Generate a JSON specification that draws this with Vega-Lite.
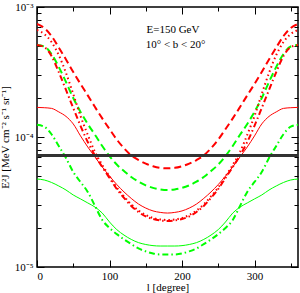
{
  "$schema": "https://vega.github.io/schema/vega-lite/v6.json",
  "width": 261,
  "height": 260,
  "autosize": {"type": "none"},
  "padding": {"left": 37, "top": 7, "right": 2, "bottom": 26},
  "background": "white",
  "config": {
    "view": {"stroke": "#000", "strokeWidth": 1.5},
    "axis": {"domain": false, "grid": false, "labelFont": "Liberation Serif", "labelFontSize": 11, "labelColor": "#000", "tickColor": "#000", "tickWidth": 1, "titleFont": "Liberation Serif", "titleFontSize": 11, "titleFontWeight": "normal", "titleColor": "#000"}
  },
  "data": {"values": [
    {"l": 0, "rd": 7.40e-4, "gd": 5.10e-4, "rdot": 6.65e-4, "rdd": 5.10e-4, "rs": 1.69e-4, "gdd": 1.24e-4, "gs": 4.75e-5},
    {"l": 10, "rd": 6.89e-4, "gd": 4.97e-4, "rdot": 6.20e-4, "rdd": 4.92e-4, "rs": 1.68e-4, "gdd": 1.20e-4, "gs": 4.67e-5},
    {"l": 20, "rd": 5.98e-4, "gd": 4.35e-4, "rdot": 5.38e-4, "rdd": 4.20e-4, "rs": 1.66e-4, "gdd": 1.05e-4, "gs": 4.47e-5},
    {"l": 30, "rd": 4.88e-4, "gd": 3.46e-4, "rdot": 4.27e-4, "rdd": 3.16e-4, "rs": 1.56e-4, "gdd": 8.53e-5, "gs": 4.20e-5},
    {"l": 40, "rd": 3.95e-4, "gd": 2.65e-4, "rdot": 3.11e-4, "rdd": 2.30e-4, "rs": 1.44e-4, "gdd": 6.89e-5, "gs": 3.91e-5},
    {"l": 50, "rd": 3.16e-4, "gd": 1.995e-4, "rdot": 2.14e-4, "rdd": 1.67e-4, "rs": 1.26e-4, "gdd": 5.38e-5, "gs": 3.58e-5},
    {"l": 60, "rd": 2.56e-4, "gd": 1.56e-4, "rdot": 1.45e-4, "rdd": 1.22e-4, "rs": 1.02e-4, "gdd": 4.51e-5, "gs": 3.34e-5},
    {"l": 70, "rd": 2.09e-4, "gd": 1.26e-4, "rdot": 1.04e-4, "rdd": 9.15e-5, "rs": 8.38e-5, "gdd": 3.78e-5, "gs": 3.11e-5},
    {"l": 80, "rd": 1.70e-4, "gd": 1.04e-4, "rdot": 7.67e-5, "rdd": 7.21e-5, "rs": 7.02e-5, "gdd": 2.95e-5, "gs": 2.89e-5},
    {"l": 90, "rd": 1.39e-4, "gd": 8.53e-5, "rdot": 6.09e-5, "rdd": 5.88e-5, "rs": 5.88e-5, "gdd": 2.30e-5, "gs": 2.60e-5},
    {"l": 100, "rd": 1.15e-4, "gd": 7.14e-5, "rdot": 4.97e-5, "rdd": 4.84e-5, "rs": 5.01e-5, "gdd": 1.995e-5, "gs": 2.22e-5},
    {"l": 110, "rd": 9.57e-5, "gd": 6.14e-5, "rdot": 4.09e-5, "rdd": 3.98e-5, "rs": 4.31e-5, "gdd": 1.79e-5, "gs": 1.94e-5},
    {"l": 120, "rd": 8.19e-5, "gd": 5.47e-5, "rdot": 3.49e-5, "rdd": 3.40e-5, "rs": 3.78e-5, "gdd": 1.63e-5, "gs": 1.76e-5},
    {"l": 130, "rd": 7.22e-5, "gd": 4.92e-5, "rdot": 3.03e-5, "rdd": 2.95e-5, "rs": 3.37e-5, "gdd": 1.50e-5, "gs": 1.63e-5},
    {"l": 140, "rd": 6.65e-5, "gd": 4.53e-5, "rdot": 2.72e-5, "rdd": 2.65e-5, "rs": 3.05e-5, "gdd": 1.39e-5, "gs": 1.54e-5},
    {"l": 150, "rd": 6.24e-5, "gd": 4.25e-5, "rdot": 2.51e-5, "rdd": 2.45e-5, "rs": 2.84e-5, "gdd": 1.32e-5, "gs": 1.49e-5},
    {"l": 160, "rd": 5.96e-5, "gd": 4.06e-5, "rdot": 2.38e-5, "rdd": 2.34e-5, "rs": 2.70e-5, "gdd": 1.27e-5, "gs": 1.46e-5},
    {"l": 170, "rd": 5.79e-5, "gd": 3.95e-5, "rdot": 2.32e-5, "rdd": 2.28e-5, "rs": 2.63e-5, "gdd": 1.25e-5, "gs": 1.45e-5},
    {"l": 180, "rd": 5.74e-5, "gd": 3.91e-5, "rdot": 2.30e-5, "rdd": 2.26e-5, "rs": 2.60e-5, "gdd": 1.25e-5, "gs": 1.45e-5},
    {"l": 190, "rd": 5.79e-5, "gd": 3.95e-5, "rdot": 2.32e-5, "rdd": 2.28e-5, "rs": 2.63e-5, "gdd": 1.25e-5, "gs": 1.45e-5},
    {"l": 200, "rd": 5.96e-5, "gd": 4.06e-5, "rdot": 2.38e-5, "rdd": 2.34e-5, "rs": 2.70e-5, "gdd": 1.27e-5, "gs": 1.46e-5},
    {"l": 210, "rd": 6.24e-5, "gd": 4.25e-5, "rdot": 2.51e-5, "rdd": 2.45e-5, "rs": 2.84e-5, "gdd": 1.32e-5, "gs": 1.49e-5},
    {"l": 220, "rd": 6.65e-5, "gd": 4.53e-5, "rdot": 2.72e-5, "rdd": 2.65e-5, "rs": 3.05e-5, "gdd": 1.39e-5, "gs": 1.54e-5},
    {"l": 230, "rd": 7.22e-5, "gd": 4.92e-5, "rdot": 3.03e-5, "rdd": 2.95e-5, "rs": 3.37e-5, "gdd": 1.50e-5, "gs": 1.63e-5},
    {"l": 240, "rd": 8.19e-5, "gd": 5.47e-5, "rdot": 3.49e-5, "rdd": 3.40e-5, "rs": 3.78e-5, "gdd": 1.63e-5, "gs": 1.76e-5},
    {"l": 250, "rd": 9.57e-5, "gd": 6.14e-5, "rdot": 4.09e-5, "rdd": 3.98e-5, "rs": 4.31e-5, "gdd": 1.79e-5, "gs": 1.94e-5},
    {"l": 260, "rd": 1.15e-4, "gd": 7.14e-5, "rdot": 4.97e-5, "rdd": 4.84e-5, "rs": 5.01e-5, "gdd": 1.995e-5, "gs": 2.22e-5},
    {"l": 270, "rd": 1.39e-4, "gd": 8.53e-5, "rdot": 6.09e-5, "rdd": 5.88e-5, "rs": 5.88e-5, "gdd": 2.30e-5, "gs": 2.60e-5},
    {"l": 280, "rd": 1.70e-4, "gd": 1.04e-4, "rdot": 7.67e-5, "rdd": 7.21e-5, "rs": 7.02e-5, "gdd": 2.95e-5, "gs": 2.89e-5},
    {"l": 290, "rd": 2.09e-4, "gd": 1.26e-4, "rdot": 1.04e-4, "rdd": 9.15e-5, "rs": 8.38e-5, "gdd": 3.78e-5, "gs": 3.11e-5},
    {"l": 300, "rd": 2.56e-4, "gd": 1.56e-4, "rdot": 1.45e-4, "rdd": 1.22e-4, "rs": 1.02e-4, "gdd": 4.51e-5, "gs": 3.34e-5},
    {"l": 310, "rd": 3.16e-4, "gd": 1.995e-4, "rdot": 2.14e-4, "rdd": 1.67e-4, "rs": 1.26e-4, "gdd": 5.38e-5, "gs": 3.58e-5},
    {"l": 320, "rd": 3.95e-4, "gd": 2.65e-4, "rdot": 3.11e-4, "rdd": 2.30e-4, "rs": 1.44e-4, "gdd": 6.89e-5, "gs": 3.91e-5},
    {"l": 330, "rd": 4.88e-4, "gd": 3.46e-4, "rdot": 4.27e-4, "rdd": 3.16e-4, "rs": 1.56e-4, "gdd": 8.53e-5, "gs": 4.20e-5},
    {"l": 340, "rd": 5.98e-4, "gd": 4.35e-4, "rdot": 5.38e-4, "rdd": 4.20e-4, "rs": 1.66e-4, "gdd": 1.05e-4, "gs": 4.47e-5},
    {"l": 350, "rd": 6.89e-4, "gd": 4.97e-4, "rdot": 6.20e-4, "rdd": 4.92e-4, "rs": 1.68e-4, "gdd": 1.20e-4, "gs": 4.67e-5},
    {"l": 360, "rd": 7.40e-4, "gd": 5.10e-4, "rdot": 6.65e-4, "rdd": 5.10e-4, "rs": 1.69e-4, "gdd": 1.24e-4, "gs": 4.75e-5}
  ]},
  "resolve": {"axis": {"x": "independent", "y": "independent"}},
  "layer": [
    {
      "mark": {"type": "line", "color": "#ff0000", "strokeWidth": 2, "strokeDash": [7, 4], "interpolate": "monotone", "clip": true},
      "encoding": {
        "x": {"field": "l", "type": "quantitative", "scale": {"domain": [0, 360], "nice": false, "zero": false},
              "axis": {"orient": "bottom", "values": [0, 100, 200, 300], "tickSize": -7, "labelPadding": 10, "title": "l [degree]", "titleY": 20, "titleBaseline": "middle"}},
        "y": {"field": "rd", "type": "quantitative", "scale": {"type": "log", "domain": [1e-5, 1e-3], "nice": false},
              "axis": {"orient": "left", "values": [1e-5, 1e-4, 1e-3], "tickSize": -7, "labelPadding": 11,
                       "labelExpr": "datum.value > 5e-4 ? '10⁻³' : datum.value > 5e-5 ? '10⁻⁴' : '10⁻⁵'",
                       "title": "E²J [MeV cm⁻² s⁻¹ sr⁻¹]", "titlePadding": 4}}
      }
    },
    {
      "mark": {"type": "line", "color": "#00ff00", "strokeWidth": 2, "strokeDash": [7, 4], "interpolate": "monotone", "clip": true},
      "encoding": {
        "x": {"field": "l", "type": "quantitative", "scale": {"domain": [0, 360], "nice": false, "zero": false},
              "axis": {"orient": "bottom", "values": [50, 150, 250, 350], "tickSize": -4, "labels": false, "title": null}},
        "y": {"field": "gd", "type": "quantitative", "scale": {"type": "log", "domain": [1e-5, 1e-3], "nice": false},
              "axis": {"orient": "left", "values": [2e-5, 3e-5, 4e-5, 5e-5, 6e-5, 7e-5, 8e-5, 9e-5, 2e-4, 3e-4, 4e-4, 5e-4, 6e-4, 7e-4, 8e-4, 9e-4], "tickSize": -4, "labels": false, "title": null}}
      }
    },
    {
      "mark": {"type": "line", "color": "#ff0000", "strokeWidth": 2, "strokeDash": [1.5, 3], "interpolate": "monotone", "clip": true},
      "encoding": {
        "x": {"field": "l", "type": "quantitative", "scale": {"domain": [0, 360], "nice": false, "zero": false},
              "axis": {"orient": "top", "values": [0, 100, 200, 300], "tickSize": -7, "labels": false, "title": null}},
        "y": {"field": "rdot", "type": "quantitative", "scale": {"type": "log", "domain": [1e-5, 1e-3], "nice": false},
              "axis": {"orient": "right", "values": [1e-5, 1e-4, 1e-3], "tickSize": -7, "labels": false, "title": null}}
      }
    },
    {
      "mark": {"type": "line", "color": "#ff0000", "strokeWidth": 2, "strokeDash": [6, 3, 1.5, 3], "interpolate": "monotone", "clip": true},
      "encoding": {
        "x": {"field": "l", "type": "quantitative", "scale": {"domain": [0, 360], "nice": false, "zero": false},
              "axis": {"orient": "top", "values": [50, 150, 250, 350], "tickSize": -4, "labels": false, "title": null}},
        "y": {"field": "rdd", "type": "quantitative", "scale": {"type": "log", "domain": [1e-5, 1e-3], "nice": false},
              "axis": {"orient": "right", "values": [2e-5, 3e-5, 4e-5, 5e-5, 6e-5, 7e-5, 8e-5, 9e-5, 2e-4, 3e-4, 4e-4, 5e-4, 6e-4, 7e-4, 8e-4, 9e-4], "tickSize": -4, "labels": false, "title": null}}
      }
    },
    {
      "mark": {"type": "line", "color": "#ff0000", "strokeWidth": 1, "interpolate": "monotone", "clip": true},
      "encoding": {
        "x": {"field": "l", "type": "quantitative", "scale": {"domain": [0, 360], "nice": false, "zero": false}, "axis": null},
        "y": {"field": "rs", "type": "quantitative", "scale": {"type": "log", "domain": [1e-5, 1e-3], "nice": false}, "axis": null}
      }
    },
    {
      "mark": {"type": "line", "color": "#00ff00", "strokeWidth": 2, "strokeDash": [6, 3, 1.5, 3], "interpolate": "monotone", "clip": true},
      "encoding": {
        "x": {"field": "l", "type": "quantitative", "scale": {"domain": [0, 360], "nice": false, "zero": false}, "axis": null},
        "y": {"field": "gdd", "type": "quantitative", "scale": {"type": "log", "domain": [1e-5, 1e-3], "nice": false}, "axis": null}
      }
    },
    {
      "mark": {"type": "line", "color": "#00ff00", "strokeWidth": 1, "interpolate": "monotone", "clip": true},
      "encoding": {
        "x": {"field": "l", "type": "quantitative", "scale": {"domain": [0, 360], "nice": false, "zero": false}, "axis": null},
        "y": {"field": "gs", "type": "quantitative", "scale": {"type": "log", "domain": [1e-5, 1e-3], "nice": false}, "axis": null}
      }
    },
    {
      "mark": {"type": "rule", "color": "#333333", "strokeWidth": 2},
      "encoding": {
        "y": {"datum": 7.18e-5, "type": "quantitative", "scale": {"type": "log", "domain": [1e-5, 1e-3], "nice": false}, "axis": null}
      }
    },
    {
      "data": {"values": [
        {"l": 151, "v": 6.31e-4, "t": "E=150 GeV"},
        {"l": 150, "v": 4.84e-4, "t": "10° < b < 20°"}
      ]},
      "mark": {"type": "text", "font": "Liberation Serif", "fontSize": 11, "align": "left", "baseline": "alphabetic", "color": "#000"},
      "encoding": {
        "x": {"field": "l", "type": "quantitative", "scale": {"domain": [0, 360], "nice": false, "zero": false}, "axis": null},
        "y": {"field": "v", "type": "quantitative", "scale": {"type": "log", "domain": [1e-5, 1e-3], "nice": false}, "axis": null},
        "text": {"field": "t"}
      }
    }
  ]
}
